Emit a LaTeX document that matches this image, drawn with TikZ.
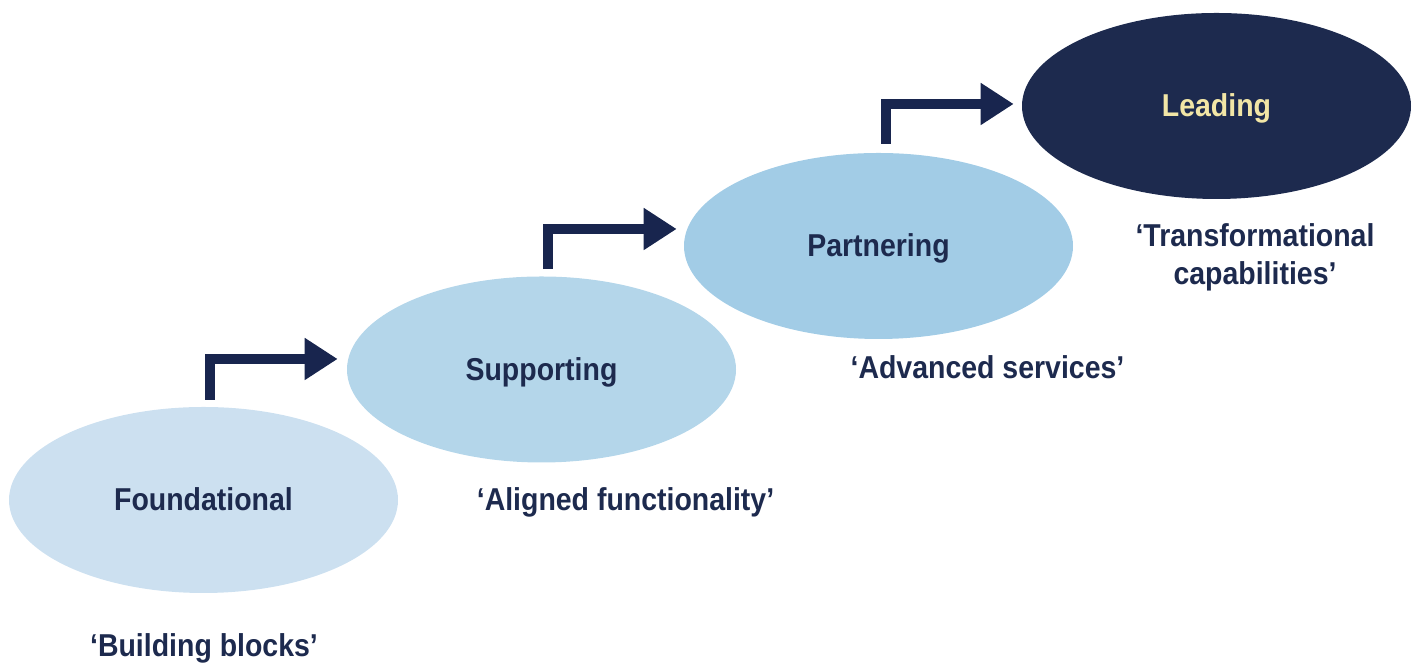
\documentclass[tikz,border=0pt]{standalone}
\usepackage{fontspec}
\setmainfont{Liberation Sans}[FakeStretch=0.9]
\usepackage{xcolor}
\usepackage{tikz}
\usetikzlibrary{arrows.meta, shapes.geometric}

\definecolor{navy}{RGB}{29,42,78}
\definecolor{arrownavy}{RGB}{24,37,78}
\definecolor{lvlone}{RGB}{204,224,240}
\definecolor{lvltwo}{RGB}{180,214,234}
\definecolor{lvlthree}{RGB}{162,204,230}
\definecolor{leadtext}{RGB}{242,230,166}

\begin{document}
\begin{tikzpicture}[
  level/.style={
    ellipse, minimum width=7.78cm, minimum height=3.72cm, inner sep=0pt,
    font=\fontsize{18pt}{21.6pt}\selectfont\bfseries,
    text=navy, text height=16.4pt, text depth=4pt
  },
  motto/.style={
    align=center, text=navy,
    font=\fontsize{18pt}{21.6pt}\selectfont\bfseries,
    text height=16.4pt, text depth=4pt
  },
  stairarrow/.style={
    draw=arrownavy, line width=0.2cm,
    -{Triangle[length=0.66cm, width=0.8cm]}
  },
]
\useasboundingbox (0,0) rectangle (28.36,13.26);

%%% Maturity levels
\node[level, fill=lvlone]   (found) at (4.07,3.26)   {Foundational};
\node[level, fill=lvltwo]   (supp)  at (10.83,5.87)  {Supporting};
\node[level, fill=lvlthree] (part)  at (17.57,8.34)  {Partnering};
\node[level, fill=navy, text=leadtext] (lead) at (24.33,11.14) {Leading};

%%% Mottos under each level
\node[motto] (mfound) at (4.08,0.34)  {‘Building blocks’};
\node[motto] (msupp)  at (12.51,3.27) {‘Aligned functionality’};
\node[motto] (mpart)  at (19.75,5.90) {‘Advanced services’};
\node[motto, text height=38pt] (mlead) at (25.10,8.17)
  {‘Transformational\\capabilities’};

%%% Step-up arrows
\draw[stairarrow] ([shift={(0.13,0.14)}]found.north) |- ([shift={(-0.18,0.21)}]supp.west);
\draw[stairarrow] ([shift={(0.13,0.14)}]supp.north)  |- ([shift={(-0.14,0.34)}]part.west);
\draw[stairarrow] ([shift={(0.14,0.18)}]part.north)  |- ([shift={(-0.16,0.04)}]lead.west);

\end{tikzpicture}
\end{document}
